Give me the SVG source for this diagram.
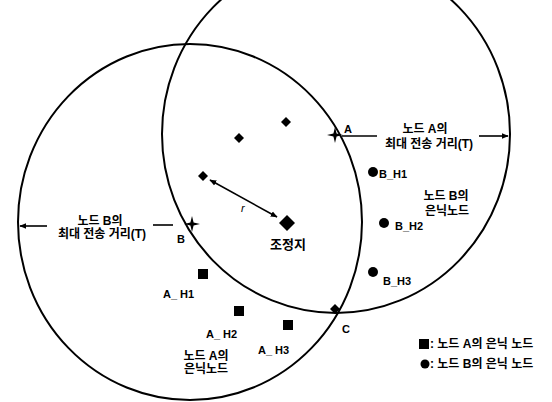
<svg xmlns="http://www.w3.org/2000/svg" width="552" height="402" viewBox="0 0 552 402">
<style>
.ring{fill:none;stroke:#000;stroke-width:2}
.ln{stroke:#000;stroke-width:1.6;fill:none}
text{font-family:"Liberation Sans","Noto Sans CJK KR",sans-serif;font-weight:bold;fill:#000}
.k{font-size:12px;text-anchor:middle}
.s{font-size:11px}
</style>
<defs>
<marker id="ah" viewBox="0 0 10 10" refX="9" refY="5" markerWidth="7" markerHeight="7" orient="auto-start-reverse" markerUnits="userSpaceOnUse"><path d="M0,1 L10,5 L0,9 Z" fill="#000"/></marker>
<path id="dia" d="M0,-5 L5,0 L0,5 L-5,0 Z" fill="#000"/>
<path id="star" d="M0,-8 L1.6,-1.6 L8,0 L1.6,1.6 L0,8 L-1.6,1.6 L-8,0 L-1.6,-1.6 Z" fill="#000"/>
<rect id="sq" x="-5" y="-5" width="10" height="10" fill="#000"/>
<circle id="dot" r="5" fill="#000"/>
</defs>
<rect width="552" height="402" fill="#fff"/>
<g id="range-B"><ellipse class="ring" cx="190" cy="222" rx="172" ry="178"/></g>
<g id="range-A"><ellipse class="ring" cx="336" cy="134" rx="174" ry="179"/></g>
<g id="connectors">
<line class="ln" x1="342" y1="136" x2="377" y2="136"/>
<line class="ln" x1="479" y1="136" x2="508" y2="136" marker-end="url(#ah)"/>
<line class="ln" x1="173" y1="225" x2="153" y2="225"/>
<line class="ln" x1="47" y1="226" x2="20" y2="226" marker-end="url(#ah)"/>
<line class="ln" x1="210" y1="180" x2="277" y2="217" marker-start="url(#ah)" marker-end="url(#ah)"/>
</g>
<g id="node-A"><use href="#star" x="335" y="135"/><text class="s" x="344" y="133">A</text></g>
<g id="node-B"><use href="#star" x="192" y="224"/><text class="s" x="177" y="243">B</text></g>
<g id="node-C"><use href="#dia" x="335" y="309"/><text class="s" x="342" y="333">C</text></g>
<g id="node-d1"><use href="#dia" x="239" y="138"/></g>
<g id="node-d2"><use href="#dia" x="286" y="122"/></g>
<g id="node-d3"><use href="#dia" x="203" y="176"/></g>
<g id="coordinator"><path d="M287,215 L295,223 L287,231 L279,223 Z" fill="#000"/><text class="k" style="font-size:13px" x="288" y="249">조정지</text></g>
<g id="label-r"><text style="font-size:11px;font-style:italic;font-weight:normal" x="241" y="212">r</text></g>
<g id="A_H1"><use href="#sq" x="203" y="274"/><text class="s" x="163" y="298">A_ H1</text></g>
<g id="A_H2"><use href="#sq" x="239" y="311"/><text class="s" x="206" y="338">A_ H2</text></g>
<g id="A_H3"><use href="#sq" x="288" y="325"/><text class="s" x="258" y="354">A_ H3</text></g>
<g id="B_H1"><use href="#dot" x="373" y="172"/><text class="s" x="379" y="178">B_H1</text></g>
<g id="B_H2"><use href="#dot" x="384" y="223"/><text class="s" x="395" y="230">B_H2</text></g>
<g id="B_H3"><use href="#dot" x="373" y="272"/><text class="s" x="383" y="285">B_H3</text></g>
<g id="label-rangeA"><text class="k" x="425" y="133">노드 A의</text><text class="k" x="429" y="148">최대 전송 거리(T)</text></g>
<g id="label-rangeB"><text class="k" x="100" y="225">노드 B의</text><text class="k" x="102" y="238">최대 전송 거리(T)</text></g>
<g id="label-hiddenB"><text class="k" x="446" y="200">노드 B의</text><text class="k" x="447" y="215">은닉노드</text></g>
<g id="label-hiddenA"><text class="k" x="206" y="360">노드 A의</text><text class="k" x="206" y="373">은닉노드</text></g>
<g id="legend">
<use href="#sq" x="424" y="344"/><text style="font-size:12px" x="430" y="348">: 노드 A의 은닉 노드</text>
<circle cx="425" cy="364" r="4.5" fill="#000"/><text style="font-size:12px" x="430" y="368">: 노드 B의 은닉 노드</text>
</g>
</svg>
